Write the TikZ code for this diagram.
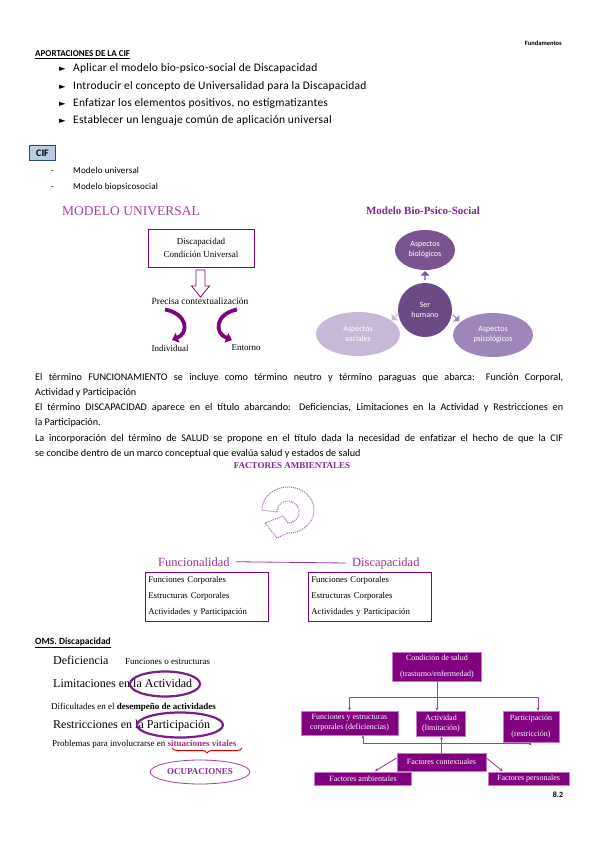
\documentclass[tikz,border=0pt]{standalone}
\usepackage{fontspec}
\setmainfont{Liberation Serif}
\newfontfamily\calib{Carlito}
\newfontfamily\dejavu{DejaVu Sans}
\usetikzlibrary{shapes.geometric,shapes.arrows,arrows.meta,decorations.pathreplacing,calc}
\definecolor{pur}{HTML}{800080}
\definecolor{purl}{HTML}{C27AC2}
\definecolor{purc}{HTML}{A33FA3}
\definecolor{mu}{HTML}{A2479F}
\definecolor{bpt}{HTML}{7B2C8B}
\definecolor{bioT}{HTML}{7A5491}
\definecolor{bioC}{HTML}{6B4A85}
\definecolor{bioS}{HTML}{C6B8D6}
\definecolor{bioP}{HTML}{9F86BA}
\definecolor{fpur}{HTML}{9B2F9B}
\definecolor{ell}{HTML}{7A1E8C}
\definecolor{ocu}{HTML}{8B2C9B}
\definecolor{sitv}{HTML}{A0308F}
\definecolor{ciff}{HTML}{B8CCE4}
\definecolor{cifb}{HTML}{2B4C73}
\definecolor{dotp}{HTML}{B05CB0}
\tikzset{
  lbl/.style={anchor=base west, inner sep=0},
  body/.style={lbl, font=\calib\fontsize{11.5}{13}\selectfont\addfontfeature{LetterSpace=2}},
  bul/.style={lbl, font=\dejavu\fontsize{8.5}{9}\selectfont},
  pbox/.style={fill=pur, draw=purl, line width=0.8, text=white, align=center, inner sep=1, font=\fontsize{8}{10}\selectfont},
  conn/.style={draw=purc, line width=0.9, -{Stealth[length=3pt,width=3pt]}},
  bioell/.style={ellipse, text=white, align=center, inner sep=0, font=\calib\fontsize{8}{10}\selectfont},
  smallarr/.style={single arrow, minimum height=9, minimum width=9, single arrow head extend=1.5, inner sep=0},
  listbox/.style={draw=pur, line width=0.6, minimum width=123, minimum height=49, anchor=north west, align=left, text width=117, inner xsep=3, font=\fontsize{8.8}{16}\selectfont},
  omsbig/.style={lbl, font=\fontsize{12}{14}\selectfont},
  omssmall/.style={lbl, font=\fontsize{9}{11}\selectfont},
}
\begin{document}
\begin{tikzpicture}[x=1pt,y=-1pt]
\useasboundingbox (0,0) rectangle (599,848);
\fill[white] (0,0) rectangle (599,848);

% header
\node[anchor=base east, inner sep=0, font=\calib\bfseries\fontsize{6.5}{8}\selectfont] (fund) at (562,46) {Fundamentos};
\node[lbl, font=\calib\bfseries\fontsize{9}{11}\selectfont] (apor) at (35,57) {\underline{APORTACIONES DE LA CIF}};
\node[bul] (m1) at (59,71.5) {►};
\node[body] (b1) at (73,72) {Aplicar el modelo bio-psico-social de Discapacidad};
\node[bul] (m2) at (59,89.5) {►};
\node[body] (b2) at (73,90) {Introducir el concepto de Universalidad para la Discapacidad};
\node[bul] (m3) at (59,106.5) {►};
\node[body] (b3) at (73,107) {Enfatizar los elementos positivos, no estigmatizantes};
\node[bul] (m4) at (59,123.5) {►};
\node[body] (b4) at (73,124) {Establecer un lenguaje común de aplicación universal};

\node[draw=cifb, fill=ciff, line width=1.2, minimum width=26, minimum height=15, inner sep=0, font=\calib\bfseries\fontsize{10}{12}\selectfont] (cif) at (42.5,153) {CIF};
\node[lbl, font=\calib\fontsize{9}{11}\selectfont] (d1) at (51,173) {-};
\node[lbl, font=\calib\fontsize{9}{11}\selectfont\addfontfeature{LetterSpace=2}] (c1) at (73,173) {Modelo universal};
\node[lbl, font=\calib\fontsize{9}{11}\selectfont] (d2) at (51,189) {-};
\node[lbl, font=\calib\fontsize{9}{11}\selectfont\addfontfeature{LetterSpace=2}] (c2) at (73,189) {Modelo biopsicosocial};

% Modelo universal
\node[lbl, font=\fontsize{13.5}{15}\selectfont, text=mu] (mut) at (62,215) {MODELO UNIVERSAL};
\node[draw=pur, line width=0.8, minimum width=106, minimum height=38, align=center, font=\fontsize{9}{13}\selectfont] (disc) at (201,248) {Discapacidad\\Condición Universal};
\draw[pur, line width=0.8] (196,270) -- (205,270) -- (205,286) -- (209.5,286) -- (200.5,297) -- (191.5,286) -- (196,286) -- cycle;
\node[inner sep=0, font=\fontsize{9.5}{11}\selectfont] (prec) at (200,301) {Precisa contextualización};
\node[inner sep=0, font=\fontsize{9}{11}\selectfont] (indiv) at (170,348) {Individual};
\node[inner sep=0, font=\fontsize{9}{11}\selectfont] (ento) at (246,348) {Entorno};
\coordinate (la) at (165,309.5);
\coordinate (lb) at (172,340);
\coordinate (ra) at (237,309.5);
\coordinate (rb) at (232,340);
\draw[pur, line width=3.8, -{Triangle[length=6pt,width=10pt]}] (la) .. controls (188,314) and (189,333) .. (lb);
\draw[pur, line width=3.8, -{Triangle[length=6pt,width=10pt]}] (ra) .. controls (215,314) and (214,333) .. (rb);

% Modelo bio-psico-social
\node[inner sep=0, font=\bfseries\fontsize{11}{12}\selectfont, text=bpt] (bpst) at (423,211) {Modelo Bio-Psico-Social};
\node[bioell, fill=bioT, minimum width=60, minimum height=40] (bio) at (425,250) {Aspectos\\biológicos};
\node[bioell, fill=bioS, minimum width=84, minimum height=44] (soc) at (358,334) {Aspectos\\sociales};
\node[bioell, fill=bioP, minimum width=80, minimum height=44] (psi) at (493,335) {Aspectos\\psicológicos};
\node[circle, fill=bioC, minimum size=54, text=white, align=center, inner sep=0, font=\calib\fontsize{8}{10}\selectfont] (ser) at (425,310) {Ser\\humano};
\node[smallarr, fill=bioT, rotate=90] (a1) at (425,276) {};
\node[smallarr, fill=bioS, rotate=225] (a2) at (395,317) {};
\node[smallarr, fill=bioP, rotate=-45] (a3) at (456,318) {};

% paragraphs
\node[anchor=base west, inner sep=0, text width=528, align=justify, font=\calib\fontsize{10.2}{15.3}\selectfont] (para) at (35,380) {\hyphenpenalty=10000\exhyphenpenalty=10000 El término FUNCIONAMIENTO se incluye como término neutro y término paraguas que abarca: Función Corporal,\linebreak Actividad y Participación\par
El término DISCAPACIDAD aparece en el título abarcando: Deficiencias, Limitaciones en la Actividad y Restricciones en\linebreak la Participación.\par
La incorporación del término de SALUD se propone en el título dada la necesidad de enfatizar el hecho de que la CIF\linebreak se concibe dentro de un marco conceptual que evalúa salud y estados de salud};

% Factores ambientales
\node[inner sep=0, font=\bfseries\fontsize{9}{10}\selectfont, text=bpt] (fam) at (292,466) {FACTORES AMBIENTALES};
\draw[dotp, line width=1, dash pattern=on 1pt off 1pt]
  plot[domain=180:450, samples=60] ({288+11*cos(\x)},{512+11*sin(\x)})
  -- (283,516) -- (265,523) -- (277,538)
  -- plot[domain=450:180, samples=60] ({288+26*cos(\x)},{510+23*sin(\x)})
  -- cycle;

\node[lbl, font=\fontsize{12.5}{14}\selectfont, text=fpur] (fun) at (158,566) {Funcionalidad};
\node[lbl, font=\fontsize{12.5}{14}\selectfont, text=fpur] (dis) at (352,566) {Discapacidad};
\draw[fpur, line width=0.8] ($(fun.east)+(6,0)$) -- ($(dis.west)+(-6,0)$);
\node[listbox] (lb1) at (145,572) {Funciones Corporales\\Estructuras Corporales\\Actividades y Participación};
\node[listbox] (lb2) at (308,572) {Funciones Corporales\\Estructuras Corporales\\Actividades y Participación};

% OMS
\node[lbl, font=\calib\bfseries\fontsize{9.5}{11}\selectfont] (oms) at (35,644) {\underline{OMS. Discapacidad}};
\node[omsbig] (def) at (53,664) {Deficiencia};
\node[omssmall] (fue) at (125,664) {Funciones o estructuras};
\node[omsbig] (lim) at (53,687) {Limitaciones en la Actividad};
\node[omssmall] (dif) at (51,709) {Dificultades en el \textbf{desempeño de actividades}};
\node[omsbig] (res) at (53,728) {Restricciones en la Participación};
\node[omssmall] (pro) at (52,746) {Problemas para involucrarse en \textbf{\textcolor{sitv}{situaciones vitales}}};
\node[ellipse, draw=ell, line width=2.2, minimum width=70, minimum height=25, inner sep=0] (e1) at (165,684) {};
\node[ellipse, draw=ell, line width=2.2, minimum width=86, minimum height=25, inner sep=0] (e2) at (180,725) {};
\coordinate (br1) at (172,748);
\coordinate (br2) at (242,748);
\draw[red!85!black, line width=1, decorate, decoration={brace, mirror, amplitude=5pt}] (br1) -- (br2);
\node[ellipse, draw=purc, line width=0.8, minimum width=100, minimum height=24, inner sep=0, text=ocu, font=\bfseries\fontsize{9}{11}\selectfont] (ocup) at (200,772) {OCUPACIONES};

% CIF scheme
\node[pbox, minimum width=89, minimum height=29, font=\fontsize{8}{16}\selectfont] (cs) at (437,666.5) {Condición de salud\\(trastorno/enfermedad)};
\node[pbox, minimum width=97, minimum height=24] (fe) at (349.5,723) {Funciones y estructuras\\corporales (deficiencias)};
\node[pbox, minimum width=49, minimum height=25] (ac) at (441,723.5) {Actividad\\(limitación)};
\node[pbox, minimum width=56, minimum height=31, font=\fontsize{8}{16}\selectfont] (pa) at (531,726.5) {Participación\\(restricción)};
\node[pbox, minimum width=89, minimum height=18] (fc) at (441.5,762) {Factores contextuales};
\node[pbox, minimum width=97, minimum height=13] (fa) at (363,779) {Factores ambientales};
\node[pbox, minimum width=81, minimum height=13] (fp) at (528.5,779) {Factores personales};
\coordinate (j1) at (437,697);
\draw[purc, line width=0.9] (cs.south) -- (j1);
\draw[conn] (j1) -| (fe.north);
\draw[conn] (j1) -- (j1 |- ac.north);
\draw[conn] (j1) -| ($(pa.north)+(7,0)$);
\coordinate (j2) at (441.5,743.5);
\draw[conn] (fc.north) -- (fc.north |- ac.south);
\draw[conn] (j2) -| ($(fe.south)+(13.5,0)$);
\draw[conn] (j2) -| ($(pa.south)+(-1,0)$);
\draw[conn] ($(fc.west)+(0,-4)$) -- ($(fa.north)+(12,-1)$);
\draw[conn] ($(fc.east)+(0,-4)$) -- ($(fp.north west)+(15,-1)$);

\node[inner sep=0, font=\calib\bfseries\fontsize{8}{10}\selectfont] (pg) at (558,795) {8.2};
\end{tikzpicture}
\end{document}
